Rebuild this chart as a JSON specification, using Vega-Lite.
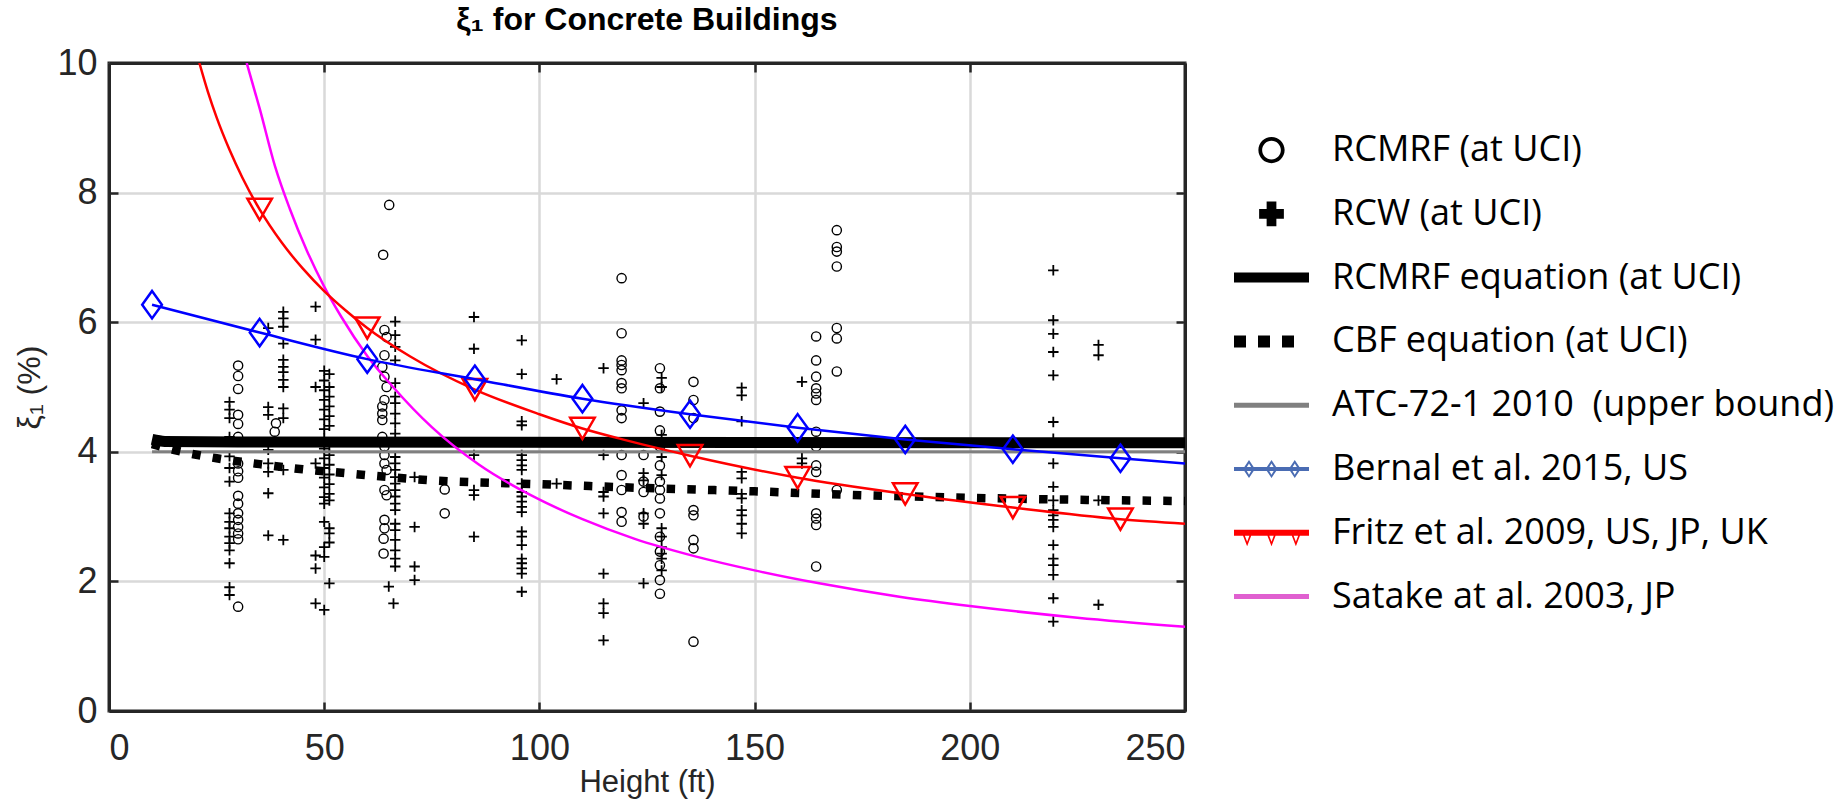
{
  "$schema": "https://vega.github.io/schema/vega-lite/v6.json",
  "width": 1076,
  "height": 648,
  "autosize": {"type": "none"},
  "padding": {"left": 109, "top": 63, "right": 658, "bottom": 91},
  "background": "white",
  "title": {"text": "ξ₁ for Concrete Buildings", "fontSize": 32, "fontWeight": "bold", "font": "Liberation Sans Narrow, Liberation Sans", "anchor": "middle", "frame": "group", "offset": 8, "color": "#000000"},
  "datasets": {
    "circles": [
      {"h":30,"xi":5.33},{"h":30,"xi":5.17},{"h":30,"xi":4.97},{"h":30,"xi":4.57},{"h":30,"xi":4.43},{"h":30,"xi":4.23},{"h":30,"xi":3.82},{"h":30,"xi":3.7},{"h":30,"xi":3.6},{"h":30,"xi":3.32},{"h":30,"xi":3.2},{"h":30,"xi":3.05},{"h":30,"xi":2.95},{"h":30,"xi":2.84},{"h":30,"xi":2.74},{"h":30,"xi":2.65},{"h":30,"xi":1.61},
      {"h":38.8,"xi":4.44},{"h":38.5,"xi":4.31},
      {"h":65.1,"xi":7.81},{"h":63.7,"xi":7.04},
      {"h":64,"xi":5.88},{"h":64.5,"xi":5.77},{"h":64,"xi":5.49},{"h":63.5,"xi":5.31},{"h":64,"xi":5.16},{"h":64.5,"xi":5.0},{"h":64,"xi":4.8},{"h":63.5,"xi":4.7},{"h":63.5,"xi":4.59},{"h":63.5,"xi":4.49},{"h":63.5,"xi":4.23},{"h":64,"xi":4.08},{"h":64,"xi":3.95},{"h":64,"xi":3.82},{"h":64.5,"xi":3.72},{"h":64,"xi":3.41},{"h":64.5,"xi":3.33},{"h":64,"xi":2.95},{"h":64,"xi":2.82},{"h":63.8,"xi":2.66},{"h":63.8,"xi":2.43},
      {"h":78,"xi":3.42},{"h":78,"xi":3.05},
      {"h":119.1,"xi":6.68},{"h":119.1,"xi":5.83},{"h":119.1,"xi":5.41},{"h":119.1,"xi":5.34},{"h":119.1,"xi":5.26},{"h":119.1,"xi":5.06},{"h":119.1,"xi":4.98},{"h":119.1,"xi":4.64},{"h":119.1,"xi":4.52},{"h":119.1,"xi":3.95},{"h":119.1,"xi":3.64},{"h":119.1,"xi":3.41},{"h":119.1,"xi":3.07},{"h":119.1,"xi":2.92},
      {"h":124.2,"xi":3.95},{"h":124.2,"xi":3.54},{"h":124.2,"xi":3.38},{"h":124.2,"xi":3.0},
      {"h":128,"xi":5.29},{"h":128,"xi":4.98},{"h":128,"xi":4.62},{"h":128,"xi":4.33},{"h":128,"xi":4.08},{"h":128,"xi":3.79},{"h":128,"xi":3.54},{"h":128,"xi":3.41},{"h":128,"xi":3.28},{"h":128,"xi":3.05},{"h":128,"xi":2.69},{"h":128,"xi":2.46},{"h":128,"xi":2.25},{"h":128,"xi":2.02},{"h":128,"xi":1.81},
      {"h":135.8,"xi":5.08},{"h":135.8,"xi":4.8},{"h":135.8,"xi":4.52},{"h":135.8,"xi":3.1},{"h":135.8,"xi":3.02},{"h":135.8,"xi":2.64},{"h":135.8,"xi":2.51},{"h":135.8,"xi":1.07},
      {"h":164.3,"xi":5.78},{"h":164.3,"xi":5.41},{"h":164.3,"xi":5.16},{"h":164.3,"xi":4.98},{"h":164.3,"xi":4.9},{"h":164.3,"xi":4.8},{"h":164.3,"xi":4.31},{"h":164.3,"xi":4.08},{"h":164.3,"xi":3.79},{"h":164.3,"xi":3.69},{"h":164.3,"xi":3.05},{"h":164.3,"xi":2.97},{"h":164.3,"xi":2.87},{"h":164.3,"xi":2.23},
      {"h":169.1,"xi":7.42},{"h":169.1,"xi":7.16},{"h":169.1,"xi":7.09},{"h":169.1,"xi":6.86},{"h":169.1,"xi":5.91},{"h":169.1,"xi":5.75},{"h":169.1,"xi":5.24},{"h":169.1,"xi":3.41}
    ],
    "pluses": [
      {"h":28,"xi":4.77},{"h":28,"xi":4.65},{"h":28,"xi":4.52},{"h":28,"xi":4.23},{"h":28,"xi":3.93},{"h":28,"xi":3.75},{"h":28,"xi":3.54},{"h":28,"xi":3.05},{"h":28,"xi":2.92},{"h":28,"xi":2.82},{"h":28,"xi":2.69},{"h":28,"xi":2.59},{"h":28,"xi":2.48},{"h":28,"xi":2.28},{"h":28,"xi":1.91},{"h":28,"xi":1.79},
      {"h":37,"xi":5.91},{"h":37,"xi":4.69},{"h":37,"xi":4.57},{"h":37,"xi":4.03},{"h":37,"xi":3.82},{"h":37,"xi":3.69},{"h":37,"xi":3.36},{"h":37,"xi":2.71},
      {"h":40.5,"xi":6.16},{"h":40.5,"xi":6.06},{"h":40.5,"xi":5.93},{"h":40.5,"xi":5.67},{"h":40.5,"xi":5.42},{"h":40.5,"xi":5.31},{"h":40.5,"xi":5.23},{"h":40.5,"xi":5.11},{"h":40.5,"xi":5.0},{"h":40.5,"xi":4.67},{"h":40.5,"xi":4.52},{"h":40.5,"xi":3.72},{"h":40.5,"xi":2.64},
      {"h":48,"xi":6.24},{"h":48,"xi":5.73},{"h":48,"xi":5.0},{"h":48,"xi":3.82},{"h":48,"xi":2.4},{"h":48,"xi":2.2},{"h":48,"xi":1.66},
      {"h":50,"xi":5.25},{"h":50,"xi":5.1},{"h":50,"xi":4.95},{"h":50,"xi":4.8},{"h":50,"xi":4.65},{"h":50,"xi":4.5},{"h":50,"xi":4.35},{"h":50,"xi":4.2},{"h":50,"xi":4.05},{"h":50,"xi":3.9},{"h":50,"xi":3.75},{"h":50,"xi":3.6},{"h":50,"xi":3.45},{"h":50,"xi":3.3},{"h":50,"xi":3.2},{"h":50,"xi":2.92},{"h":50,"xi":2.53},{"h":50,"xi":2.38},{"h":50,"xi":1.56},
      {"h":51.2,"xi":5.2},{"h":51.2,"xi":5.0},{"h":51.2,"xi":4.85},{"h":51.2,"xi":4.7},{"h":51.2,"xi":4.55},{"h":51.2,"xi":4.4},{"h":51.2,"xi":4.1},{"h":51.2,"xi":3.95},{"h":51.2,"xi":3.8},{"h":51.2,"xi":3.65},{"h":51.2,"xi":3.5},{"h":51.2,"xi":3.35},{"h":51.2,"xi":3.25},{"h":51.2,"xi":2.82},{"h":51.2,"xi":2.74},{"h":51.2,"xi":2.6},{"h":51.2,"xi":1.97},
      {"h":66.5,"xi":6.01},{"h":66.5,"xi":5.8},{"h":66.5,"xi":5.62},{"h":66.5,"xi":5.41},{"h":66.5,"xi":5.06},{"h":66.5,"xi":4.85},{"h":66.5,"xi":4.75},{"h":66.5,"xi":4.59},{"h":66.5,"xi":4.44},{"h":66.5,"xi":4.28},{"h":66.5,"xi":3.92},{"h":66.5,"xi":3.82},{"h":66.5,"xi":3.72},{"h":66.5,"xi":3.61},{"h":66.5,"xi":3.51},{"h":66.5,"xi":3.41},{"h":66.5,"xi":3.31},{"h":66.5,"xi":3.2},{"h":66.5,"xi":3.1},{"h":66.5,"xi":2.89},{"h":66.5,"xi":2.79},{"h":66.5,"xi":2.64},{"h":66.5,"xi":2.48},{"h":66.5,"xi":2.35},{"h":66.5,"xi":2.23},
      {"h":65,"xi":1.92},{"h":66.1,"xi":1.66},
      {"h":71,"xi":3.61},{"h":71,"xi":2.84},{"h":71,"xi":2.23},{"h":71,"xi":2.02},
      {"h":84.8,"xi":6.08},{"h":84.8,"xi":5.59},{"h":84.8,"xi":3.95},{"h":84.8,"xi":3.41},{"h":84.8,"xi":3.33},{"h":84.8,"xi":2.69},
      {"h":95.9,"xi":5.72},{"h":95.9,"xi":5.2},{"h":95.9,"xi":4.47},{"h":95.9,"xi":4.41},{"h":95.9,"xi":3.95},{"h":95.9,"xi":3.87},{"h":95.9,"xi":3.79},{"h":95.9,"xi":3.72},{"h":95.9,"xi":3.51},{"h":95.9,"xi":3.38},{"h":95.9,"xi":3.31},{"h":95.9,"xi":3.23},{"h":95.9,"xi":3.15},{"h":95.9,"xi":3.07},{"h":95.9,"xi":2.77},{"h":95.9,"xi":2.69},{"h":95.9,"xi":2.56},{"h":95.9,"xi":2.35},{"h":95.9,"xi":2.28},{"h":95.9,"xi":2.2},{"h":95.9,"xi":2.12},{"h":95.9,"xi":1.84},
      {"h":104,"xi":5.12},{"h":104,"xi":3.51},
      {"h":114.9,"xi":5.29},{"h":114.9,"xi":3.95},{"h":114.9,"xi":3.38},{"h":114.9,"xi":3.31},{"h":114.9,"xi":3.05},{"h":114.9,"xi":2.12},{"h":114.9,"xi":1.66},{"h":114.9,"xi":1.51},{"h":114.9,"xi":1.09},
      {"h":124.2,"xi":4.75},{"h":124.2,"xi":3.67},{"h":124.2,"xi":3.56},{"h":124.2,"xi":3.05},{"h":124.2,"xi":2.89},{"h":124.2,"xi":1.97},
      {"h":128.4,"xi":5.14},{"h":128.4,"xi":5.0},{"h":128.4,"xi":4.26},{"h":128.4,"xi":3.92},{"h":128.4,"xi":3.64},{"h":128.4,"xi":2.82},{"h":128.4,"xi":2.69},{"h":128.4,"xi":2.53},{"h":128.4,"xi":2.43},{"h":128.4,"xi":2.35},{"h":128.4,"xi":2.17},
      {"h":147,"xi":4.99},{"h":147,"xi":4.87},{"h":147,"xi":4.47},{"h":147,"xi":3.69},{"h":147,"xi":3.59},{"h":147,"xi":3.35},{"h":147,"xi":3.28},{"h":147,"xi":3.1},{"h":147,"xi":3.02},{"h":147,"xi":2.89},{"h":147,"xi":2.74},
      {"h":161,"xi":5.08},{"h":161,"xi":3.9},{"h":161,"xi":3.82},
      {"h":219.4,"xi":6.8},{"h":219.4,"xi":6.03},{"h":219.4,"xi":5.82},{"h":219.4,"xi":5.54},{"h":219.4,"xi":5.18},{"h":219.4,"xi":4.46},{"h":219.4,"xi":4.2},{"h":219.4,"xi":3.82},{"h":219.4,"xi":3.46},{"h":219.4,"xi":3.25},{"h":219.4,"xi":3.1},{"h":219.4,"xi":3.02},{"h":219.4,"xi":2.95},{"h":219.4,"xi":2.84},{"h":219.4,"xi":2.56},{"h":219.4,"xi":2.35},{"h":219.4,"xi":2.25},{"h":219.4,"xi":2.1},{"h":219.4,"xi":1.74},{"h":219.4,"xi":1.38},
      {"h":229.9,"xi":5.65},{"h":229.9,"xi":5.49},{"h":229.9,"xi":3.25},{"h":229.9,"xi":1.64}
    ],
    "curves": [
      {"series":"ATC-72-1 2010\u00a0\u00a0(upper bound)","h":10,"xi":4.0},{"series":"ATC-72-1 2010\u00a0\u00a0(upper bound)","h":250,"xi":4.0},
      {"series":"RCMRF equation (at UCI)","h":10,"xi":4.19},{"series":"RCMRF equation (at UCI)","h":13,"xi":4.16},{"series":"RCMRF equation (at UCI)","h":30,"xi":4.15},{"series":"RCMRF equation (at UCI)","h":250,"xi":4.14},
      {"series":"CBF equation (at UCI)","h":10,"xi":4.12},{"series":"CBF equation (at UCI)","h":15,"xi":4.03},{"series":"CBF equation (at UCI)","h":25,"xi":3.9},{"series":"CBF equation (at UCI)","h":35,"xi":3.81},{"series":"CBF equation (at UCI)","h":45,"xi":3.73},{"series":"CBF equation (at UCI)","h":55,"xi":3.67},{"series":"CBF equation (at UCI)","h":65,"xi":3.61},{"series":"CBF equation (at UCI)","h":75,"xi":3.56},{"series":"CBF equation (at UCI)","h":100,"xi":3.5},{"series":"CBF equation (at UCI)","h":125,"xi":3.44},{"series":"CBF equation (at UCI)","h":150,"xi":3.39},{"series":"CBF equation (at UCI)","h":175,"xi":3.33},{"series":"CBF equation (at UCI)","h":200,"xi":3.29},{"series":"CBF equation (at UCI)","h":225,"xi":3.26},{"series":"CBF equation (at UCI)","h":250,"xi":3.24},
      {"series":"Satake at al. 2003, JP","h":32,"xi":10.0},{"series":"Satake at al. 2003, JP","h":35,"xi":9.3},{"series":"Satake at al. 2003, JP","h":38.6,"xi":8.4},{"series":"Satake at al. 2003, JP","h":42,"xi":7.75},{"series":"Satake at al. 2003, JP","h":46,"xi":7.1},{"series":"Satake at al. 2003, JP","h":50,"xi":6.55},{"series":"Satake at al. 2003, JP","h":54,"xi":6.08},{"series":"Satake at al. 2003, JP","h":60,"xi":5.48},{"series":"Satake at al. 2003, JP","h":66,"xi":5.0},{"series":"Satake at al. 2003, JP","h":75,"xi":4.38},{"series":"Satake at al. 2003, JP","h":86,"xi":3.8},{"series":"Satake at al. 2003, JP","h":98,"xi":3.33},{"series":"Satake at al. 2003, JP","h":110,"xi":2.96},{"series":"Satake at al. 2003, JP","h":122,"xi":2.66},{"series":"Satake at al. 2003, JP","h":136,"xi":2.39},{"series":"Satake at al. 2003, JP","h":150,"xi":2.17},{"series":"Satake at al. 2003, JP","h":165,"xi":1.97},{"series":"Satake at al. 2003, JP","h":184,"xi":1.76},{"series":"Satake at al. 2003, JP","h":200,"xi":1.62},{"series":"Satake at al. 2003, JP","h":225,"xi":1.44},{"series":"Satake at al. 2003, JP","h":250,"xi":1.3},
      {"series":"Fritz et al. 2009, US, JP, UK","h":21,"xi":10.0},{"series":"Fritz et al. 2009, US, JP, UK","h":23,"xi":9.55},{"series":"Fritz et al. 2009, US, JP, UK","h":25,"xi":9.16},{"series":"Fritz et al. 2009, US, JP, UK","h":28,"xi":8.66},{"series":"Fritz et al. 2009, US, JP, UK","h":31,"xi":8.23},{"series":"Fritz et al. 2009, US, JP, UK","h":35,"xi":7.74},{"series":"Fritz et al. 2009, US, JP, UK","h":40,"xi":7.24},{"series":"Fritz et al. 2009, US, JP, UK","h":45,"xi":6.83},{"series":"Fritz et al. 2009, US, JP, UK","h":50,"xi":6.48},{"series":"Fritz et al. 2009, US, JP, UK","h":55,"xi":6.18},{"series":"Fritz et al. 2009, US, JP, UK","h":60,"xi":5.91},{"series":"Fritz et al. 2009, US, JP, UK","h":70,"xi":5.47},{"series":"Fritz et al. 2009, US, JP, UK","h":85,"xi":4.96},{"series":"Fritz et al. 2009, US, JP, UK","h":100,"xi":4.58},{"series":"Fritz et al. 2009, US, JP, UK","h":110,"xi":4.36},{"series":"Fritz et al. 2009, US, JP, UK","h":120,"xi":4.18},{"series":"Fritz et al. 2009, US, JP, UK","h":135,"xi":3.94},{"series":"Fritz et al. 2009, US, JP, UK","h":160,"xi":3.6},{"series":"Fritz et al. 2009, US, JP, UK","h":185,"xi":3.35},{"series":"Fritz et al. 2009, US, JP, UK","h":210,"xi":3.14},{"series":"Fritz et al. 2009, US, JP, UK","h":235,"xi":2.96},{"series":"Fritz et al. 2009, US, JP, UK","h":250,"xi":2.89},
      {"series":"Bernal et al. 2015, US","h":10,"xi":6.27},{"series":"Bernal et al. 2015, US","h":35,"xi":5.84},{"series":"Bernal et al. 2015, US","h":60,"xi":5.43},{"series":"Bernal et al. 2015, US","h":85,"xi":5.12},{"series":"Bernal et al. 2015, US","h":110,"xi":4.82},{"series":"Bernal et al. 2015, US","h":135,"xi":4.58},{"series":"Bernal et al. 2015, US","h":160,"xi":4.37},{"series":"Bernal et al. 2015, US","h":185,"xi":4.19},{"series":"Bernal et al. 2015, US","h":210,"xi":4.04},{"series":"Bernal et al. 2015, US","h":235,"xi":3.9},{"series":"Bernal et al. 2015, US","h":250,"xi":3.82}
    ]
  },
  "encoding": {
    "x": {"field": "h", "type": "quantitative", "scale": {"domain": [0, 250], "nice": false}, "axis": null},
    "y": {"field": "xi", "type": "quantitative", "scale": {"domain": [0, 10], "nice": false}, "axis": null},
    "color": {
      "field": "series", "type": "nominal",
      "scale": {
        "domain": ["RCMRF (at UCI)", "RCW (at UCI)", "RCMRF equation (at UCI)", "CBF equation (at UCI)", "ATC-72-1 2010\u00a0\u00a0(upper bound)", "Bernal et al. 2015, US", "Fritz et al. 2009, US, JP, UK", "Satake at al. 2003, JP"],
        "range": ["#000000", "#000000", "#000000", "#000000", "#808080", "#0000ff", "#ff0000", "#ff00ff"]
      },
      "legend": {
        "orient": "none", "legendX": 1125, "legendY": 67, "title": null, "padding": 0,
        "labelFont": "Open Sans", "labelFontSize": 36, "labelColor": "#000000", "labelLimit": 0, "labelOffset": 23,
        "symbolSize": 5625, "symbolStrokeWidth": 0, "symbolOpacity": 1, "clipHeight": 40, "rowPadding": 23.8,
        "encode": {
          "symbols": {
            "update": {
              "shape": {"signal": "['M-0.35,0 A0.35,0.35 0 1,1 0.35,0 A0.35,0.35 0 1,1 -0.35,0 Z M-0.25,0 A0.25,0.25 0 1,0 0.25,0 A0.25,0.25 0 1,0 -0.25,0 Z','M-0.13,-0.33H0.13V-0.13H0.33V0.13H0.13V0.33H-0.13V0.13H-0.33V-0.13H-0.13Z','M-1,-0.133H1V0.133H-1Z','M-1,-0.16H-0.68V0.16H-1Z M-0.36,-0.16H-0.04V0.16H-0.36Z M0.28,-0.16H0.6V0.16H0.28Z','M-1,-0.067H1V0.067H-1Z','M-1,-0.053H1V0.053H-1Z M-0.6,-0.24L-0.44,0L-0.6,0.24L-0.76,0Z M-0.6,-0.15L-0.69,0L-0.6,0.15L-0.51,0Z M0,-0.24L0.16,0L0,0.24L-0.16,0Z M0,-0.15L-0.09,0L0,0.15L0.09,0Z M0.62,-0.24L0.78,0L0.62,0.24L0.46,0Z M0.62,-0.15L0.53,0L0.62,0.15L0.71,0Z','M-1,-0.08H1V0.08H-1Z M-0.82,-0.08L-0.48,-0.08L-0.65,0.36Z M-0.74,0L-0.65,0.24L-0.56,0Z M-0.17,-0.08L0.17,-0.08L0,0.36Z M-0.09,0L0,0.24L0.09,0Z M0.48,-0.08L0.82,-0.08L0.65,0.36Z M0.56,0L0.65,0.24L0.74,0Z','M-1,-0.067H1V0.067H-1Z'][indexof(domain('color'), datum.value)]"},
              "fill": {"signal": "['#000000','#000000','#000000','#000000','#808080','#4a6cb3','#ff0000','#e060d0'][indexof(domain('color'), datum.value)]"},
              "stroke": {"value": "transparent"},
              "opacity": {"value": 1},
              "fillOpacity": {"value": 1}
            }
          }
        }
      }
    }
  },
  "layer": [
    {
      "data": {"name": "circles"},
      "mark": {"type": "point", "shape": "circle", "size": 85, "filled": false, "strokeWidth": 1.4, "opacity": 1, "color": "#000000"},
      "encoding": {
        "color": {"value": "#000000"},
        "x": {"field": "h", "type": "quantitative", "scale": {"domain": [0, 250], "nice": false},
          "axis": {"orient": "bottom", "values": [0, 50, 100, 150, 200, 250], "grid": true, "gridColor": "#d9d9d9", "gridWidth": 2.5,
            "tickSize": -9, "tickWidth": 2.5, "tickColor": "#262626", "domain": true, "domainColor": "#262626", "domainWidth": 3,
            "labelFontSize": 36, "labelPadding": 29, "labelColor": "#262626", "labelFont": "Liberation Sans Narrow, Liberation Sans",
            "title": "Height (ft)", "titleFontSize": 31, "titleFontWeight": "normal", "titleColor": "#262626", "titleFont": "Liberation Sans Narrow, Liberation Sans", "titlePadding": 1}},
        "y": {"field": "xi", "type": "quantitative", "scale": {"domain": [0, 10], "nice": false},
          "axis": {"orient": "left", "values": [0, 2, 4, 6, 8, 10], "grid": true, "gridColor": "#d9d9d9", "gridWidth": 2.5,
            "tickSize": -9, "tickWidth": 2.5, "tickColor": "#262626", "domain": true, "domainColor": "#262626", "domainWidth": 3,
            "labelFontSize": 36, "labelPadding": 21, "labelColor": "#262626", "labelFont": "Liberation Sans Narrow, Liberation Sans",
            "title": "ξ₁ (%)", "titleFontSize": 32, "titleFontWeight": "normal", "titleColor": "#262626", "titleFont": "Liberation Sans", "titlePadding": 10}}
      }
    },
    {
      "data": {"name": "pluses"},
      "mark": {"type": "point", "shape": "M-1,0H1M0,-1V1", "size": 110, "filled": false, "strokeWidth": 1.8, "opacity": 1, "color": "#000000"},
      "encoding": {
        "color": {"value": "#000000"},
        "x": {"field": "h", "type": "quantitative", "scale": {"domain": [0, 250], "nice": false},
          "axis": {"orient": "top", "values": [0, 50, 100, 150, 200, 250], "grid": false, "labels": false, "title": null,
            "tickSize": -9, "tickWidth": 2.5, "tickColor": "#262626", "domain": true, "domainColor": "#262626", "domainWidth": 3}},
        "y": {"field": "xi", "type": "quantitative", "scale": {"domain": [0, 10], "nice": false},
          "axis": {"orient": "right", "values": [0, 2, 4, 6, 8, 10], "grid": false, "labels": false, "title": null,
            "tickSize": -9, "tickWidth": 2.5, "tickColor": "#262626", "domain": true, "domainColor": "#262626", "domainWidth": 3}}
      }
    },
    {
      "data": {"name": "curves"},
      "transform": [{"filter": "datum.series === 'ATC-72-1 2010\u00a0\u00a0(upper bound)'"}],
      "mark": {"type": "line", "strokeWidth": 3, "clip": true}
    },
    {
      "data": {"name": "curves"},
      "transform": [{"filter": "datum.series === 'RCMRF equation (at UCI)'"}],
      "mark": {"type": "line", "strokeWidth": 11, "clip": true, "interpolate": "monotone"}
    },
    {
      "data": {"name": "curves"},
      "transform": [{"filter": "datum.series === 'CBF equation (at UCI)'"}],
      "mark": {"type": "line", "strokeWidth": 8.5, "strokeDash": [8.5, 12.2], "strokeCap": "butt", "clip": true, "interpolate": "monotone"}
    },
    {
      "data": {"name": "curves"},
      "transform": [{"filter": "datum.series === 'Satake at al. 2003, JP'"}],
      "mark": {"type": "line", "strokeWidth": 2.5, "clip": true, "interpolate": "monotone"}
    },
    {
      "data": {"name": "curves"},
      "transform": [{"filter": "datum.series === 'Fritz et al. 2009, US, JP, UK'"}],
      "mark": {"type": "line", "strokeWidth": 2.5, "clip": true, "interpolate": "monotone"}
    },
    {
      "data": {"name": "curves"},
      "transform": [{"filter": "datum.series === 'Fritz et al. 2009, US, JP, UK' && indexof([35,60,85,110,135,160,185,210,235], datum.h) >= 0"}],
      "mark": {"type": "point", "shape": "triangle-down", "size": 600, "filled": false, "strokeWidth": 2.5, "opacity": 1}
    },
    {
      "data": {"name": "curves"},
      "transform": [{"filter": "datum.series === 'Bernal et al. 2015, US'"}],
      "mark": {"type": "line", "strokeWidth": 2.5, "clip": true, "interpolate": "monotone"}
    },
    {
      "data": {"name": "curves"},
      "transform": [{"filter": "datum.series === 'Bernal et al. 2015, US' && datum.h <= 235"}],
      "mark": {"type": "point", "shape": "M0,-1L0.72,0L0,1L-0.72,0Z", "size": 750, "filled": false, "strokeWidth": 2.5, "opacity": 1}
    }
  ],
  "resolve": {"axis": {"x": "independent", "y": "independent"}},
  "config": {
    "font": "Liberation Sans",
    "view": {"stroke": "#262626", "strokeWidth": 3}
  }
}
